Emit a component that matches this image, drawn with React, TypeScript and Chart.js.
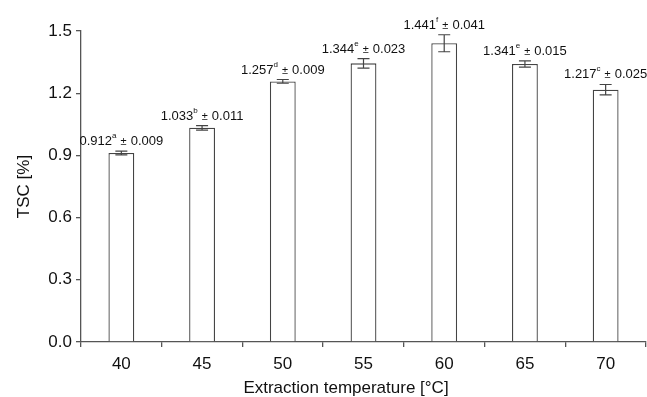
import React, { useEffect, useRef } from "react";
import { Chart, registerables } from "chart.js";

Chart.register(...registerables);

const categories = ["40", "45", "50", "55", "60", "65", "70"];
const tscValues = [0.912, 1.033, 1.257, 1.344, 1.441, 1.341, 1.217];
const tscErrors = [0.009, 0.011, 0.009, 0.023, 0.041, 0.015, 0.025];
const sigLetters = ["a", "b", "d", "e", "f", "e", "c"];
const errorLabels = ["0.009", "0.011", "0.009", "0.023", "0.041", "0.015", "0.025"];

const FONT = "'Liberation Sans', Arial, sans-serif";
const AXIS_COLOR = "#555";

const annotate = {
  id: "annotate",
  afterDatasetsDraw(chart: any) {
    const ctx = chart.ctx;
    const y = chart.scales.y;
    const meta = chart.getDatasetMeta(0);
    ctx.save();
    meta.data.forEach((bar: any, i: number) => {
      const cx = bar.x;
      const v = tscValues[i];
      const e = tscErrors[i];
      const yTop = y.getPixelForValue(v + e);
      const yBot = y.getPixelForValue(v - e);
      ctx.strokeStyle = "#444";
      ctx.lineWidth = 1.2;
      ctx.beginPath();
      ctx.moveTo(cx, yTop);
      ctx.lineTo(cx, yBot);
      ctx.moveTo(cx - 6, yTop);
      ctx.lineTo(cx + 6, yTop);
      ctx.moveTo(cx - 6, yBot);
      ctx.lineTo(cx + 6, yBot);
      ctx.stroke();

      const main = v.toFixed(3);
      const sup = sigLetters[i];
      const pm = " \u00b1 ";
      const rest = errorLabels[i];
      ctx.fillStyle = "#111";
      ctx.textBaseline = "alphabetic";
      ctx.textAlign = "left";
      const fMain = `13px ${FONT}`;
      const fSup = `8px ${FONT}`;
      const fPm = `11px ${FONT}`;
      ctx.font = fMain;
      const wMain = ctx.measureText(main).width;
      const wRest = ctx.measureText(rest).width;
      ctx.font = fSup;
      const wSup = ctx.measureText(sup).width;
      ctx.font = fPm;
      const wPm = ctx.measureText(pm).width + 2;
      const total = wMain + wSup + wPm + wRest;
      let x = cx - total / 2;
      const base = yTop - 6;
      ctx.font = fMain;
      ctx.fillText(main, x, base);
      x += wMain;
      ctx.font = fSup;
      ctx.fillText(sup, x, base - 7);
      x += wSup;
      ctx.font = fPm;
      ctx.fillText(pm, x + 1, base);
      x += wPm;
      ctx.font = fMain;
      ctx.fillText(rest, x, base);
    });

    ctx.font = `17px ${FONT}`;
    ctx.fillStyle = "#111";
    ctx.textAlign = "center";
    ctx.textBaseline = "middle";
    ctx.fillText("Extraction temperature [\u00b0C]", 346, 388);
    ctx.restore();
  },
};

export default function App() {
  const ref = useRef<HTMLCanvasElement>(null);
  useEffect(() => {
    if (!ref.current) return;
    const chart = new Chart(ref.current, {
      type: "bar",
      data: {
        labels: categories,
        datasets: [
          {
            data: tscValues,
            backgroundColor: "#ffffff",
            borderColor: "#444",
            borderWidth: 1.3,
            barPercentage: 0.32,
            categoryPercentage: 1,
          },
        ],
      },
      options: {
        animation: false,
        responsive: false,
        maintainAspectRatio: false,
        layout: { padding: { top: 31, right: 1, left: 0, bottom: 0 } },
        plugins: { legend: { display: false }, tooltip: { enabled: false } },
        scales: {
          x: {
            afterFit: (s: any) => {
              s.height = 55;
            },
            border: { color: AXIS_COLOR, width: 1.3 },
            grid: {
              offset: true,
              drawOnChartArea: false,
              drawTicks: true,
              tickLength: 5,
              color: AXIS_COLOR,
              lineWidth: 1.3,
            },
            ticks: {
              color: "#111",
              font: { family: FONT, size: 17 },
              padding: 7,
              maxRotation: 0,
            },
          },
          y: {
            min: 0,
            max: 1.5,
            afterFit: (s: any) => {
              s.width = 81;
            },
            border: { color: AXIS_COLOR, width: 1.3 },
            grid: {
              drawOnChartArea: false,
              drawTicks: true,
              tickLength: 5,
              color: AXIS_COLOR,
              lineWidth: 1.3,
            },
            ticks: {
              stepSize: 0.3,
              color: "#111",
              font: { family: FONT, size: 17 },
              padding: 4,
              callback: (v: any) => Number(v).toFixed(1),
            },
            title: {
              display: true,
              text: "TSC [%]",
              color: "#111",
              font: { family: FONT, size: 17 },
              padding: { top: 14, bottom: 0 },
            },
          },
        },
      },
      plugins: [annotate],
    });
    return () => chart.destroy();
  }, []);
  return (
    <div style={{ position: "absolute", left: 0, top: 0, width: 647, height: 397, background: "#fff" }}>
      <canvas ref={ref} width={647} height={397} style={{ width: 647, height: 397 }} />
    </div>
  );
}
